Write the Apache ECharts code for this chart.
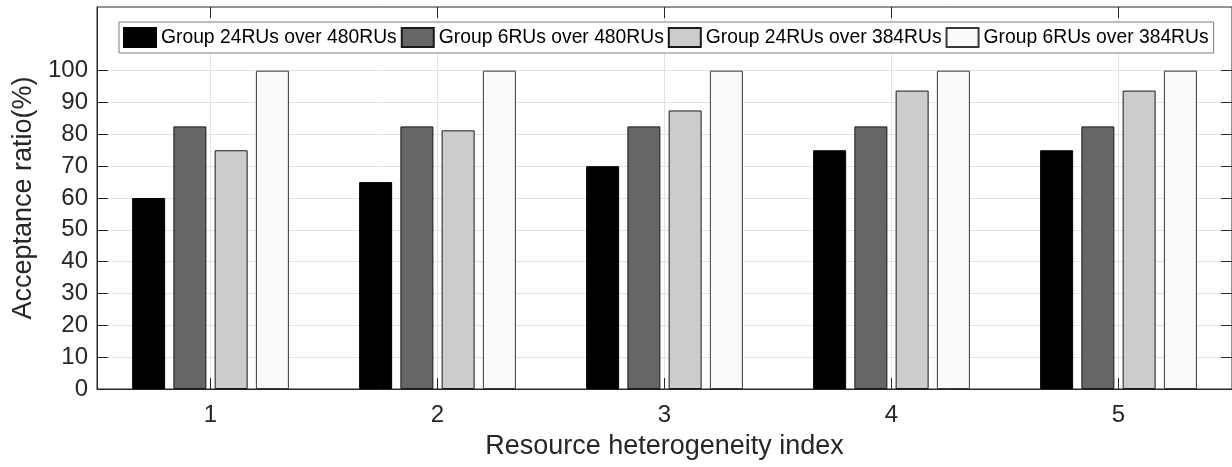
<!DOCTYPE html>
<html>
<head>
<meta charset="utf-8">
<script src="https://cdn.jsdelivr.net/npm/echarts@6/dist/echarts.min.js"></script>
<style>
  html, body { margin: 0; padding: 0; background: #fff; }
  #chart { width: 1232px; height: 467px; }
</style>
</head>
<body>
<div id="chart"></div>
<script>
// ---- data ----
const categories = ['1', '2', '3', '4', '5'];
const seriesNames = [
  'Group 24RUs over 480RUs',
  'Group 6RUs over 480RUs',
  'Group 24RUs over 384RUs',
  'Group 6RUs over 384RUs'
];
const group24over480 = [60, 65, 70, 75, 75];
const group6over480 = [82.5, 82.5, 82.5, 82.5, 82.5];
const group24over384 = [75, 81.25, 87.5, 93.75, 93.75];
const group6over384 = [100, 100, 100, 100, 100];
const xAxisTitle = 'Resource heterogeneity index';
const yAxisTitle = 'Acceptance ratio(%)';

// ---- styling ----
const FONT = "'Liberation Sans', Arial, Helvetica, sans-serif";
const AX = '#262626';
const GRIDC = '#e3e3e3';
const fills = ['#000000', '#666666', '#cccccc', '#fafafa'];
const edges = ['#000000', '#1a1a1a', '#1a1a1a', '#3a3a3a'];
const values = [group24over480, group6over480, group24over384, group6over384];

const plotLeft = 97, plotTop = 7, plotW = 1137, plotH = 382;
const yMaxFull = 120, yMaxTicks = 100;
const tickTop = plotTop + plotH * (yMaxFull - yMaxTicks) / yMaxFull;
const tickH = plotH * yMaxTicks / yMaxFull;

const chart = echarts.init(document.getElementById('chart'), null, { renderer: 'canvas' });

const series = seriesNames.map((name, i) => ({
  name: name,
  type: 'bar',
  xAxisIndex: 0,
  yAxisIndex: 0,
  data: values[i],
  barWidth: 33,
  barGap: '25%',
  itemStyle: { color: fills[i], borderColor: edges[i], borderWidth: 1 },
  emphasis: { disabled: true },
  z: 3
}));

const option = {
  animation: false,
  textStyle: { fontFamily: FONT },
  legend: {
    data: seriesNames,
    left: 119,
    top: 22,
    orient: 'horizontal',
    padding: [5, 5, 5, 4],
    itemWidth: 32,
    itemHeight: 19,
    itemGap: 4,
    icon: 'rect',
    backgroundColor: '#ffffff',
    borderColor: '#7f7f7f',
    borderWidth: 1,
    selectedMode: false,
    textStyle: { fontFamily: FONT, fontSize: 19.3, color: '#000', lineHeight: 19 },
    z: 10
  },
  grid: [
    { left: plotLeft, top: plotTop, width: plotW, height: plotH, show: true,
      borderColor: AX, borderWidth: 1, backgroundColor: 'transparent', containLabel: false },
    { left: plotLeft, top: tickTop, width: plotW, height: tickH, show: false, containLabel: false }
  ],
  xAxis: [
    { type: 'category', gridIndex: 0, position: 'bottom', data: categories,
      axisLine: { show: true, lineStyle: { color: AX, width: 1 } },
      axisTick: { show: true, inside: true, alignWithLabel: true, length: 11, lineStyle: { color: AX } },
      axisLabel: { fontSize: 24, color: AX, fontFamily: FONT, margin: 14 },
      splitLine: { show: false },
      name: xAxisTitle, nameLocation: 'middle', nameGap: 44,
      nameTextStyle: { fontSize: 27, color: AX, fontFamily: FONT } },
    { type: 'category', gridIndex: 0, position: 'top', data: categories,
      axisLine: { show: false },
      axisTick: { show: true, inside: true, alignWithLabel: true, length: 11, lineStyle: { color: AX } },
      axisLabel: { show: false },
      splitLine: { show: false } },
    { type: 'value', gridIndex: 0, position: 'bottom', min: 0, max: 10, interval: 1,
      axisLine: { show: false }, axisTick: { show: false }, axisLabel: { show: false },
      splitLine: { show: true, lineStyle: { color: ['rgba(0,0,0,0)', GRIDC], width: 1 } } },
    { type: 'value', gridIndex: 1, min: 0, max: 1, show: false }
  ],
  yAxis: [
    { type: 'value', gridIndex: 0, min: 0, max: yMaxFull, interval: 10,
      axisLine: { show: true, lineStyle: { color: AX } },
      axisTick: { show: false }, axisLabel: { show: false }, splitLine: { show: false },
      name: yAxisTitle, nameLocation: 'middle', nameGap: 60,
      nameTextStyle: { fontSize: 27, color: AX, fontFamily: FONT } },
    { type: 'value', gridIndex: 1, position: 'left', min: 0, max: yMaxTicks, interval: 10,
      axisLine: { show: false },
      axisTick: { show: true, inside: true, length: 11, lineStyle: { color: AX } },
      axisLabel: { fontSize: 24, color: AX, fontFamily: FONT, margin: 9 },
      splitLine: { show: true, lineStyle: { color: GRIDC, width: 1 } } },
    { type: 'value', gridIndex: 1, position: 'right', min: 0, max: yMaxTicks, interval: 10,
      axisLine: { show: false },
      axisTick: { show: true, inside: true, length: 11, lineStyle: { color: AX } },
      axisLabel: { show: false },
      splitLine: { show: false } }
  ],
  series: series
};

chart.setOption(option);
</script>
</body>
</html>
